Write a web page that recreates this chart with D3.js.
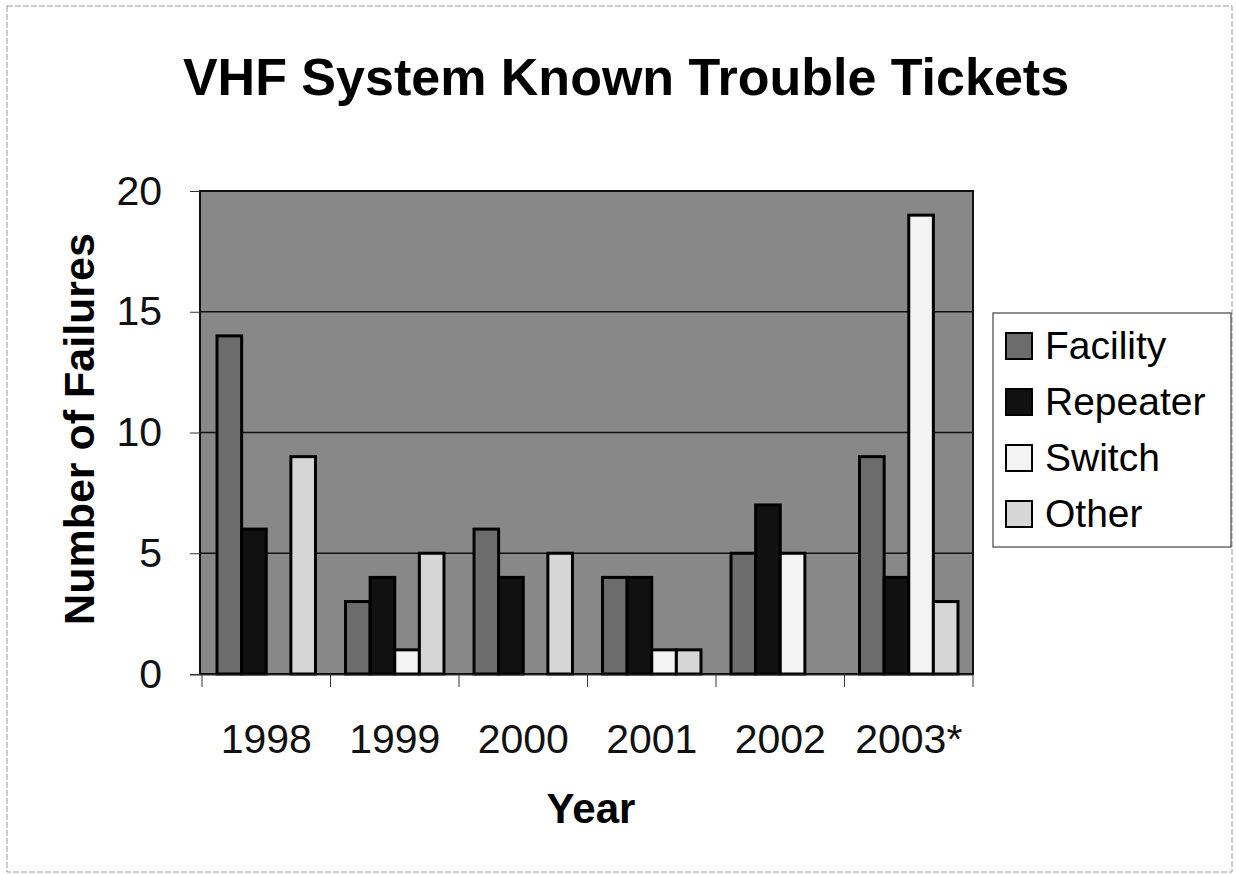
<!DOCTYPE html>
<html>
<head>
<meta charset="utf-8">
<script src="https://cdn.jsdelivr.net/npm/d3@7"></script>
<style>
  html, body { margin: 0; padding: 0; background: #fff; }
  svg { display: block; font-family: "Liberation Sans", Arial, sans-serif; }
</style>
</head>
<body>
<svg id="chart" width="1236" height="874"></svg>
<script>
const years = ["1998", "1999", "2000", "2001", "2002", "2003*"];
const seriesNames = ["Facility", "Repeater", "Switch", "Other"];
const facility = [14, 3, 6, 4, 5, 9];
const repeater = [6, 4, 4, 4, 7, 4];
const switchVals = [0, 1, 0, 1, 5, 19];
const other = [9, 5, 5, 1, 0, 3];
const yTicks = [0, 5, 10, 15, 20];

const seriesValues = [facility, repeater, switchVals, other];
const colors = ["#6c6c6c", "#111111", "#f3f3f3", "#d6d6d6"];

const svg = d3.select("#chart");

// chart outer border
svg.append("rect").attr("x", 7).attr("y", 6).attr("width", 1225).attr("height", 866)
  .attr("fill", "none").attr("stroke", "#9a9a9a").attr("stroke-width", 1).attr("stroke-dasharray", "6,2");

const plot = { left: 200, right: 973, top: 191, bottom: 674 };

const x = d3.scaleBand().domain(years).range([plot.left + 2, plot.right]).paddingInner(0).paddingOuter(0);
const xs = d3.scaleBand().domain(seriesNames).range([0, x.bandwidth()]).paddingInner(0).paddingOuter(0.61);
const y = d3.scaleLinear().domain([0, 20]).range([plot.bottom, plot.top]);

// plot background
svg.append("rect").attr("x", plot.left).attr("y", plot.top)
  .attr("width", plot.right - plot.left).attr("height", plot.bottom - plot.top)
  .attr("fill", "#888888");

// gridlines
svg.append("g").selectAll("line").data(yTicks.filter(t => t > 0 && t < 20)).join("line")
  .attr("x1", plot.left).attr("x2", plot.right)
  .attr("y1", d => y(d)).attr("y2", d => y(d))
  .attr("stroke", "#111").attr("stroke-width", 1.5);

// plot border
svg.append("rect").attr("x", plot.left).attr("y", plot.top)
  .attr("width", plot.right - plot.left).attr("height", plot.bottom - plot.top)
  .attr("fill", "none").attr("stroke", "#111").attr("stroke-width", 2);

// bars
const barData = [];
years.forEach((yr, i) => {
  seriesNames.forEach((s, j) => {
    barData.push({ year: yr, series: s, value: seriesValues[j][i], color: colors[j] });
  });
});
svg.append("g").selectAll("rect").data(barData.filter(d => d.value > 0)).join("rect")
  .attr("x", d => x(d.year) + xs(d.series))
  .attr("y", d => y(d.value))
  .attr("width", xs.bandwidth())
  .attr("height", d => y(0) - y(d.value))
  .attr("fill", d => d.color)
  .attr("stroke", "#000").attr("stroke-width", 3);

// y axis
const yAxis = d3.axisLeft(y).tickValues(yTicks).tickSize(10).tickPadding(28);
const gy = svg.append("g").attr("transform", `translate(${plot.left},0)`).call(yAxis);
gy.select(".domain").remove();
gy.selectAll(".tick line").attr("stroke", "#333").attr("stroke-width", 1);
gy.selectAll(".tick text").attr("font-size", 41).attr("fill", "#111")
  .attr("font-family", "Liberation Sans, Arial, sans-serif");

// x axis
const xAxis = d3.axisBottom(x).tickSize(0).tickPadding(50);
const gx = svg.append("g").attr("transform", `translate(0,${plot.bottom})`).call(xAxis);
gx.select(".domain").remove();
gx.selectAll(".tick text").attr("font-size", 41).attr("fill", "#111")
  .attr("font-family", "Liberation Sans, Arial, sans-serif");
// category separator ticks
svg.append("line").attr("x1", 190).attr("x2", plot.right).attr("y1", plot.bottom + 1).attr("y2", plot.bottom + 1)
  .attr("stroke", "#333").attr("stroke-width", 1);
svg.append("g").selectAll("line").data(years.concat(["_end"])).join("line")
  .attr("x1", (d, i) => i < years.length ? x(d) : x.range()[1])
  .attr("x2", (d, i) => i < years.length ? x(d) : x.range()[1])
  .attr("y1", plot.bottom).attr("y2", plot.bottom + 13)
  .attr("stroke", "#333").attr("stroke-width", 1);

// title
svg.append("text").attr("x", 626).attr("y", 95).attr("text-anchor", "middle")
  .attr("font-size", 52).attr("font-weight", "bold").attr("fill", "#000")
  .text("VHF System Known Trouble Tickets");

// axis titles
svg.append("text").attr("x", 591).attr("y", 823).attr("text-anchor", "middle")
  .attr("font-size", 42).attr("font-weight", "bold").attr("fill", "#000").text("Year");
svg.append("text").attr("transform", "translate(94,429) rotate(-90)").attr("text-anchor", "middle")
  .attr("font-size", 43).attr("font-weight", "bold").attr("fill", "#000").text("Number of Failures");

// legend
const lg = svg.append("g");
lg.append("rect").attr("x", 993).attr("y", 313).attr("width", 238).attr("height", 234)
  .attr("fill", "#fff").attr("stroke", "#444").attr("stroke-width", 1.2);
const ly = d3.scaleBand().domain(seriesNames).range([318, 542]);
const items = lg.selectAll("g.item").data(seriesNames).join("g").attr("class", "item")
  .attr("transform", d => `translate(0,${ly(d) + ly.bandwidth() / 2})`);
items.append("rect").attr("x", 1006).attr("y", -13).attr("width", 26).attr("height", 26)
  .attr("fill", (d, i) => colors[i]).attr("stroke", "#000").attr("stroke-width", 2);
items.append("text").attr("x", 1045).attr("y", 13).attr("font-size", 39).attr("fill", "#000")
  .text(d => d);
</script>
</body>
</html>
